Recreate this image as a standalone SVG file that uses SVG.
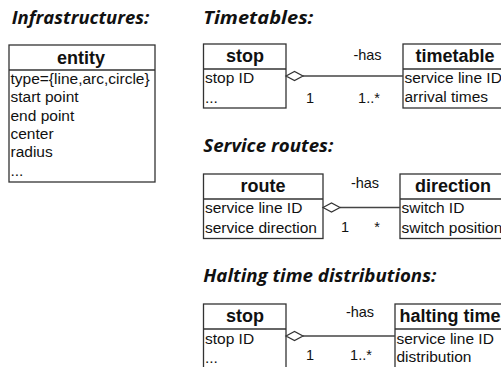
<svg xmlns="http://www.w3.org/2000/svg" width="501" height="367" viewBox="0 0 501 367">
<style>
.title{font-family:"Open Sans","Noto Sans",sans-serif;font-weight:bold;font-style:italic;font-size:17px;fill:#111}
.box{fill:#fff;stroke:#333;stroke-width:1.3}
.div{stroke:#333;stroke-width:1.3}
.hdr{font-family:"Liberation Sans",Arial,sans-serif;font-weight:bold;font-size:18px;fill:#111;text-anchor:middle}
.attr{font-family:"Liberation Sans",Arial,sans-serif;font-size:15.5px;fill:#111}
.lbl{font-family:"Liberation Sans",Arial,sans-serif;font-size:14.5px;fill:#111;text-anchor:middle}
.conn{stroke:#444;stroke-width:1.3;fill:none}
.dia{fill:#fff;stroke:#333;stroke-width:1.2}
</style>
<text class="title" x="11.7" y="23.5" textLength="137.5" lengthAdjust="spacingAndGlyphs">Infrastructures:</text>
<text class="title" x="203.3" y="23.5" textLength="110" lengthAdjust="spacingAndGlyphs">Timetables:</text>
<text class="title" x="203.3" y="152.3" textLength="130" lengthAdjust="spacingAndGlyphs">Service routes:</text>
<text class="title" x="203.3" y="282.3" textLength="233" lengthAdjust="spacingAndGlyphs">Halting time distributions:</text>

<g id="entity">
<rect class="box" x="9" y="45" width="146" height="137"/>
<line class="div" x1="9" y1="70" x2="155" y2="70"/>
<text class="hdr" x="81" y="63.5">entity</text>
<text class="attr" x="10.5" y="84">type={line,arc,circle}</text>
<text class="attr" x="10.5" y="102.3">start point</text>
<text class="attr" x="10.5" y="120.6">end point</text>
<text class="attr" x="10.5" y="138.9">center</text>
<text class="attr" x="10.5" y="157.2">radius</text>
<text class="attr" x="10.5" y="175.5">...</text>
</g>

<g id="stop1">
<rect class="box" x="203.5" y="44" width="82.5" height="64"/>
<line class="div" x1="203.5" y1="69" x2="286" y2="69"/>
<text class="hdr" x="245" y="62">stop</text>
<text class="attr" x="205" y="83">stop ID</text>
<text class="attr" x="205" y="103">...</text>
</g>
<g id="timetable">
<rect class="box" x="403" y="44" width="104" height="64"/>
<line class="div" x1="403" y1="69" x2="507" y2="69"/>
<text class="hdr" x="455" y="62">timetable</text>
<text class="attr" x="404.5" y="83">service line ID</text>
<text class="attr" x="404.5" y="102">arrival times</text>
</g>

<g id="route">
<rect class="box" x="203.5" y="174" width="119.5" height="64.5"/>
<line class="div" x1="203.5" y1="199" x2="323" y2="199"/>
<text class="hdr" x="263" y="192">route</text>
<text class="attr" x="205" y="213">service line ID</text>
<text class="attr" x="205" y="232.5">service direction</text>
</g>
<g id="direction">
<rect class="box" x="400" y="174" width="106" height="64.5"/>
<line class="div" x1="400" y1="199" x2="506" y2="199"/>
<text class="hdr" x="453" y="192">direction</text>
<text class="attr" x="401.5" y="213">switch ID</text>
<text class="attr" x="401.5" y="232.5">switch position</text>
</g>

<g id="stop2">
<rect class="box" x="203.5" y="304" width="82.5" height="70"/>
<line class="div" x1="203.5" y1="329" x2="286" y2="329"/>
<text class="hdr" x="245" y="322">stop</text>
<text class="attr" x="205" y="343.5">stop ID</text>
<text class="attr" x="205" y="363">...</text>
</g>
<g id="halting">
<rect class="box" x="395" y="304" width="115" height="70"/>
<line class="div" x1="395" y1="329" x2="510" y2="329"/>
<text class="hdr" x="399.5" y="322" style="text-anchor:start">halting time</text>
<text class="attr" x="396.5" y="343.5">service line ID</text>
<text class="attr" x="396.5" y="362">distribution</text>
</g>

<g id="connectors">
<line class="conn" x1="303" y1="76" x2="403" y2="76"/>
<path class="dia" d="M286,76 L294.5,71.5 L303,76 L294.5,80.5 Z"/>
<text class="lbl" x="367.5" y="60">-has</text>
<text class="lbl" x="310" y="103">1</text>
<text class="lbl" x="369" y="103">1..*</text>

<line class="conn" x1="340" y1="207.5" x2="400" y2="207.5"/>
<path class="dia" d="M323,207.5 L331.5,203 L340,207.5 L331.5,212 Z"/>
<text class="lbl" x="365" y="188">-has</text>
<text class="lbl" x="345" y="232">1</text>
<text class="lbl" x="377" y="232">*</text>

<line class="conn" x1="303" y1="336" x2="395" y2="336"/>
<path class="dia" d="M286,336 L294.5,331.5 L303,336 L294.5,340.5 Z"/>
<text class="lbl" x="360" y="317">-has</text>
<text class="lbl" x="310" y="360">1</text>
<text class="lbl" x="361" y="360">1..*</text>
</g>
</svg>
